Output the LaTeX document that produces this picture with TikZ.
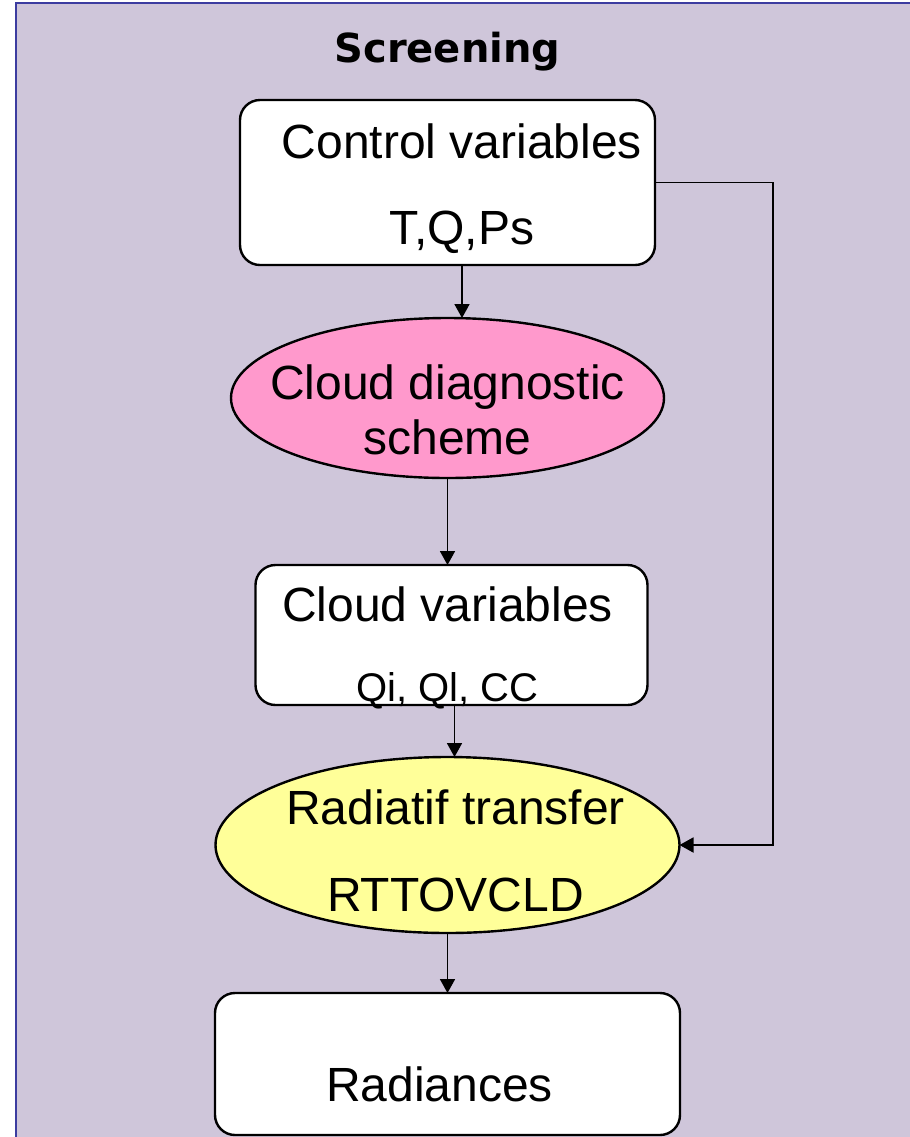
\documentclass[tikz,border=0pt]{standalone}
\usepackage{fontspec}
\setmainfont{Liberation Sans}
\newfontfamily\headfont{DejaVu Sans}
\usetikzlibrary{arrows.meta,positioning,shapes.geometric}
\definecolor{panelbg}{HTML}{CFC6DA}
\definecolor{panelrule}{HTML}{3C3CA0}
\definecolor{diagpink}{HTML}{FF99CC}
\definecolor{rtyellow}{HTML}{FFFF99}
\tikzset{
  store/.style={draw, line width=1.2pt, rounded corners=10pt, fill=white,
                inner sep=0pt, outer sep=0pt},
  blob/.style={draw, ellipse, line width=1.2pt, inner sep=0pt, outer sep=0pt},
  flow/.style={-{Triangle[length=7pt, width=7.5pt]}, line width=0.9pt},
  lbl/.style={font=\fontsize{24}{29}\selectfont, align=center, inner sep=0pt}
}

\begin{document}
\begin{tikzpicture}
  % panel
  \useasboundingbox (0,0) rectangle (455pt,-568.5pt);
  \fill[panelbg] (8pt,-1.5pt) rectangle (455pt,-568.5pt);
  \draw[panelrule, line width=1.2pt] (8pt,-568.5pt) -- (8pt,-1.5pt) -- (455pt,-1.5pt);
  % main chain
  \node[store, minimum width=207.5pt, minimum height=82.5pt,
        label={[lbl, xshift=7.25pt, yshift=-2.9pt]center:{Control variables\\[14pt]T,Q,Ps}}]
        (ctrl) at (223.75pt,-91.25pt) {};
  \node[font=\headfont\bfseries\fontsize{20}{24}\selectfont, inner sep=0pt,
        above=14pt of ctrl] (title) {Screening};
  \node[blob, fill=diagpink, minimum width=216.5pt, minimum height=80pt, below=26.5pt of ctrl,
        label={[lbl, yshift=-6.1pt]center:{Cloud diagnostic\\[-1.5pt]scheme}}] (diag) {};
  \node[store, minimum width=196pt, minimum height=70pt, below=43.5pt of diag, xshift=2pt,
        label={[lbl, xshift=-2pt, yshift=-6.25pt]center:{Cloud variables\\[11pt]{\fontsize{20}{24}\selectfont Qi, Ql, CC}}}] (vars) {};
  \node[blob, fill=rtyellow, minimum width=232pt, minimum height=88pt, below=26pt of vars, xshift=-2pt,
        label={[lbl, xshift=4pt, yshift=-3.1pt]center:{Radiatif transfer\\[14.5pt]RTTOVCLD}}] (rt) {};
  \node[store, minimum width=232.5pt, minimum height=71pt, below=30pt of rt,
        label={[lbl, xshift=-4pt, yshift=-10.35pt]center:Radiances}] (rad) {};
  % connectors
  \draw[flow] ([xshift=7.25pt]ctrl.south) -- ([xshift=7.25pt]ctrl.south |- diag.north);
  \draw[flow] (diag.south) -- (diag.south |- vars.north);
  \draw[flow] ([xshift=1.5pt]vars.south) -- ([xshift=1.5pt]vars.south |- rt.north);
  \draw[flow] (rt.south) -- (rad.north);
  \draw[flow] (ctrl.east) -- ++(59pt,0) |- (rt.east);
\end{tikzpicture}
\end{document}
